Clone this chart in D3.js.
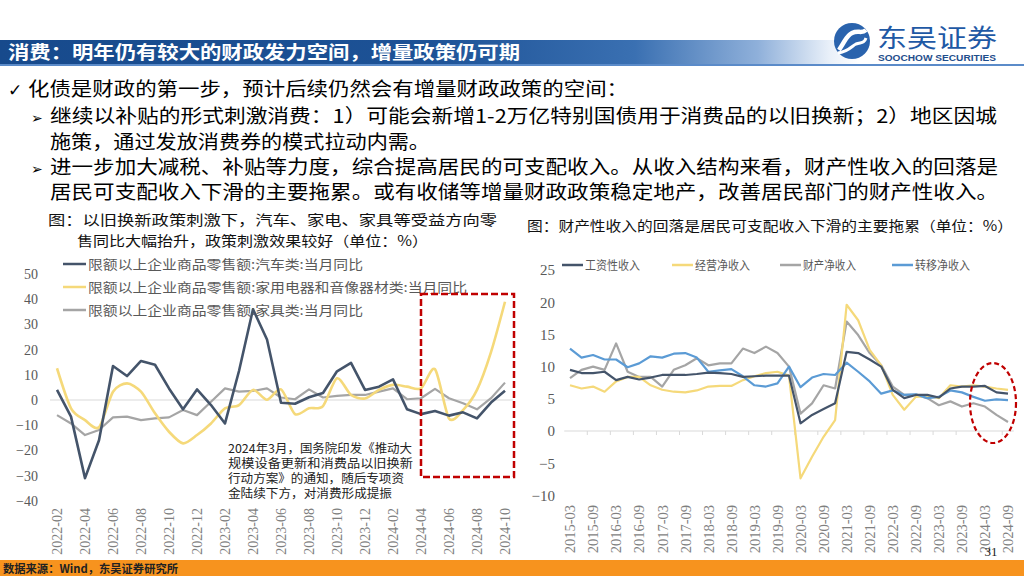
<!DOCTYPE html>
<html><head><meta charset="utf-8">
<script src="https://cdn.jsdelivr.net/npm/d3@7"></script>
<style>body{margin:0;background:#fff}svg{display:block}</style>
</head><body>
<svg id="c" width="1024" height="576"></svg>
<script>
// ---------------- DATA ----------------
const leftMonths = ["2022-02","2022-03","2022-04","2022-05","2022-06","2022-07","2022-08","2022-09","2022-10","2022-11","2022-12",
  "2023-01","2023-02","2023-03","2023-04","2023-05","2023-06","2023-07","2023-08","2023-09","2023-10","2023-11","2023-12",
  "2024-01","2024-02","2024-03","2024-04","2024-05","2024-06","2024-07","2024-08","2024-09","2024-10"];
const autoYoY = [4, -6.6, -31, -16, 13.5, 9.5, 15.5, 14, 4.6, -3.7, 4.2, -2, -9.3, 11.5, 36, 24, -1.1, -1.5, 1.1, 2.8, 11.4, 14.7, 4, 5.3, 8.2, -3.7, -5.6, -4.4, -6.2, -4.9, -7.3, -1, 3.7];
const applianceYoY = [12.6, -3.3, -8, -10.8, 3.3, 6.6, 3.3, -5.3, -12.6, -17.2, -13.9, -9.3, -3.3, -2, 4, 0.1, 4.2, -5.6, -3.3, -2.4, 8.6, 2, 0.6, 4, 6, 5.3, 4.6, 12.2, -7.3, -4, 4, 19, 39];
const furnitureYoY = [-6, -9.3, -13.9, -11.9, -6.9, -6.6, -8, -7.3, -6.9, -4, -6, -0.7, 4.6, 3.3, 3.6, 4.6, 1, 0.3, 4.2, 1, 1.6, 2, 2, 3.3, 4.6, 0.3, 0.7, 4.4, 0.7, -1.3, -3.7, 0.7, 6.9];
const leftSeriesNames = ["限额以上企业商品零售额:汽车类:当月同比", "限额以上企业商品零售额:家用电器和音像器材类:当月同比", "限额以上企业商品零售额:家具类:当月同比"];
const leftYTicks = [50, 40, 30, 20, 10, 0, -10, -20, -30, -40];

const rightQuarters = ["2015-03","2015-06","2015-09","2015-12","2016-03","2016-06","2016-09","2016-12","2017-03","2017-06","2017-09","2017-12",
  "2018-03","2018-06","2018-09","2018-12","2019-03","2019-06","2019-09","2019-12","2020-03","2020-06","2020-09","2020-12",
  "2021-03","2021-06","2021-09","2021-12","2022-03","2022-06","2022-09","2022-12","2023-03","2023-06","2023-09","2023-12",
  "2024-03","2024-06","2024-09"];
const wageIncome = [9.5, 9.0, 9.0, 9.2, 7.9, 8.4, 8.0, 8.3, 8.7, 8.7, 8.7, 8.85, 9.05, 9.0, 8.85, 8.4, 8.5, 8.6, 8.6, 8.6, 1.2, 2.5, 3.4, 4.3, 12.3, 12.1, 11.1, 10.0, 6.4, 5.1, 5.6, 5.6, 5.2, 6.6, 6.9, 6.9, 7.0, 6.0, 5.8];
const businessIncome = [7.1, 6.6, 6.9, 6.1, 7.7, 8.4, 8.4, 7.1, 6.4, 6.1, 6.0, 6.3, 6.9, 7.0, 7.0, 7.9, 8.5, 9.0, 9.2, 8.6, -7.35, -4.0, -0.9, 1.7, 19.6, 17.2, 12.6, 10.2, 5.6, 3.3, 5.3, 5.4, 5.1, 7.1, 6.9, 7.1, 6.9, 6.6, 6.4];
const propertyIncome = [8.2, 9.5, 10.0, 9.5, 13.6, 9.2, 8.4, 8.4, 6.9, 9.5, 10.2, 11.3, 10.2, 10.5, 10.5, 12.8, 12.1, 13.1, 12.1, 10.0, 2.7, 4.3, 7.1, 6.6, 17.0, 14.9, 12.1, 10.2, 6.9, 5.6, 5.6, 5.1, 4.0, 4.6, 3.8, 4.3, 3.8, 2.5, 1.4];
const transferIncome = [12.8, 11.4, 11.8, 11.1, 11.1, 9.9, 10.5, 11.6, 11.4, 12.0, 12.1, 11.4, 9.2, 9.4, 9.6, 8.5, 7.1, 6.9, 7.4, 10.0, 6.8, 8.3, 8.85, 8.7, 10.6, 9.2, 7.7, 5.8, 6.3, 5.6, 5.7, 5.1, 5.3, 6.3, 6.0, 5.3, 4.7, 4.9, 4.8];
const rightSeriesNames = ["工资性收入", "经营净收入", "财产净收入", "转移净收入"];
const rightYTicks = [25, 20, 15, 10, 5, 0, -5, -10];

// ---------------- STYLE ----------------
const CJK = "'Noto Sans CJK SC','Noto Sans',sans-serif";
const NUM = "'Liberation Serif','DejaVu Serif',serif";
const svg = d3.select("#c");

function txt(g, x, y, s, o = {}) {
  const t = g.append("text").attr("x", x).attr("y", y).text(s)
    .attr("font-family", o.ff || CJK).attr("font-size", o.fs || 12)
    .attr("fill", o.fill || "#000");
  if (o.fw) t.attr("font-weight", o.fw);
  if (o.tl) t.attr("textLength", o.tl).attr("lengthAdjust", "spacingAndGlyphs");
  if (o.anchor) t.attr("text-anchor", o.anchor);
  return t;
}

// ---------------- HEADER ----------------
const defs = svg.append("defs");
const hg = defs.append("linearGradient").attr("id", "hg").attr("gradientUnits", "userSpaceOnUse")
  .attr("x1", 0).attr("x2", 1024).attr("y1", 0).attr("y2", 0);
[[0, "#174a8c"], [0.42, "#1d5296"], [0.62, "#3a70b2"], [0.74, "#8fb0da"], [0.81, "#e9f0f9"], [0.84, "#ffffff"]]
  .forEach(([o, c]) => hg.append("stop").attr("offset", o).attr("stop-color", c));
svg.append("rect").attr("x", 0).attr("y", 40).attr("width", 1024).attr("height", 24).attr("fill", "url(#hg)");
svg.append("rect").attr("x", 0).attr("y", 64).attr("width", 1024).attr("height", 2).attr("fill", "#5b8bc9");
txt(svg, 8, 58.5, "消费：明年仍有较大的财政发力空间，增量政策仍可期", {fs: 18, fill: "#fff", fw: "bold", tl: 512});

// logo
const lg = svg.append("g");
lg.append("circle").attr("cx", 852).attr("cy", 41).attr("r", 18).attr("fill", "#2a63ad");
lg.append("path").attr("d", "M839,50 C846,40 846,36 852,33 C858,30 862,34 866,30")
  .attr("fill", "none").attr("stroke", "#fff").attr("stroke-width", 4.5);
lg.append("path").attr("d", "M838,53 C848,52 852,46 856,44 C861,42 864,44 866,38")
  .attr("fill", "none").attr("stroke", "#fff").attr("stroke-width", 3);
txt(svg, 877, 46.5, "东吴证券", {fs: 25, fill: "#1f59a5", tl: 120});
txt(svg, 878, 60.5, "SOOCHOW SECURITIES", {fs: 8.5, fill: "#1f4e8c", fw: "bold", ff: "'Liberation Sans',sans-serif", tl: 118});

// ---------------- BULLETS ----------------
txt(svg, 8, 96, "✓", {fs: 17, ff: "'DejaVu Sans',sans-serif"});
txt(svg, 28, 96, "化债是财政的第一步，预计后续仍然会有增量财政政策的空间：", {fs: 19, tl: 600});
txt(svg, 31, 122.5, "➢", {fs: 14, ff: "'DejaVu Sans',sans-serif"});
txt(svg, 50, 123, "继续以补贴的形式刺激消费：1）可能会新增1-2万亿特别国债用于消费品的以旧换新；2）地区因城", {fs: 19, tl: 947});
txt(svg, 50, 149, "施策，通过发放消费券的模式拉动内需。", {fs: 19, tl: 380});
txt(svg, 31, 173.5, "➢", {fs: 14, ff: "'DejaVu Sans',sans-serif"});
txt(svg, 50, 174, "进一步加大减税、补贴等力度，综合提高居民的可支配收入。从收入结构来看，财产性收入的回落是", {fs: 19, tl: 948});
txt(svg, 50, 199, "居民可支配收入下滑的主要拖累。或有收储等增量财政政策稳定地产，改善居民部门的财产性收入。", {fs: 19, tl: 948});

// ---------------- LEFT CHART ----------------
const L = svg.append("g");
txt(L, 48, 225, "图：以旧换新政策刺激下，汽车、家电、家具等受益方向零", {fs: 14, tl: 449, fill: "#111"});
txt(L, 77, 246, "售同比大幅抬升，政策刺激效果较好（单位：%）", {fs: 14, tl: 351, fill: "#111"});

const xL = d3.scalePoint().domain(leftMonths).range([57, 505]);
const yL = d3.scaleLinear().domain([-40, 50]).range([500.8, 274]);

L.append("line").attr("x1", 50).attr("x2", 513).attr("y1", yL(0)).attr("y2", yL(0))
  .attr("stroke", "#d9d9d9").attr("stroke-width", 1);

const yAxL = L.append("g").attr("transform", "translate(38,0)")
  .call(d3.axisLeft(yL).tickValues(leftYTicks).tickSize(0).tickPadding(0));
yAxL.select(".domain").remove();
yAxL.selectAll("text").attr("font-family", NUM).attr("font-size", 14).attr("fill", "#595959");

const xAxL = L.append("g").attr("transform", "translate(0,508)")
  .call(d3.axisBottom(xL).tickValues(leftMonths.filter((d, i) => i % 2 === 0)).tickSize(0).tickPadding(0));
xAxL.select(".domain").remove();
xAxL.selectAll("text").attr("font-family", NUM).attr("font-size", 14).attr("fill", "#7f7f7f")
  .attr("text-anchor", "end").attr("transform", "rotate(-90)").attr("x", 0).attr("y", 0).attr("dy", "0.33em");

const leftSeries = [
  {vals: furnitureYoY, color: "#a5a5a5", w: 2.2, curve: d3.curveLinear},
  {vals: applianceYoY, color: "#f5d97a", w: 2.6, curve: d3.curveCardinal.tension(0.2)},
  {vals: autoYoY, color: "#44546a", w: 2.6, curve: d3.curveLinear}
];
leftSeries.forEach(s => {
  L.append("path").datum(s.vals)
    .attr("d", d3.line().x((d, i) => xL(leftMonths[i])).y(d => yL(d)).curve(s.curve))
    .attr("fill", "none").attr("stroke", s.color).attr("stroke-width", s.w).attr("stroke-linejoin", "round");
});

// legend
const legL = [{c: "#44546a"}, {c: "#f5d97a"}, {c: "#a5a5a5"}];
const legLY = [264, 287, 310], legLW = [275, 379, 275];
legL.forEach((d, i) => {
  L.append("line").attr("x1", 63).attr("x2", 86).attr("y1", legLY[i]).attr("y2", legLY[i])
    .attr("stroke", d.c).attr("stroke-width", 2.5);
  txt(L, 88, legLY[i] + 4.5, leftSeriesNames[i], {fs: 13, fill: "#595959", tl: legLW[i]});
});

// red dashed rect
const rx0 = xL("2024-04");
L.append("rect").attr("x", rx0).attr("y", 294).attr("width", 514 - rx0).attr("height", 183)
  .attr("fill", "none").attr("stroke", "#c00000").attr("stroke-width", 2.5).attr("stroke-dasharray", "7,3");

// annotation
const ann = ["2024年3月，国务院印发《推动大", "规模设备更新和消费品以旧换新", "行动方案》的通知，随后专项资", "金陆续下方，对消费形成提振"];
const annW = [184, 185, 176, 164];
ann.forEach((s, i) => txt(L, 228, 453 + i * 15, s, {fs: 12, fill: "#222", tl: annW[i]}));

// ---------------- RIGHT CHART ----------------
const R = svg.append("g");
txt(R, 527, 231, "图：财产性收入的回落是居民可支配收入下滑的主要拖累（单位：%）", {fs: 14, tl: 486, fill: "#111"});

const xR = d3.scalePoint().domain(rightQuarters).range([570, 1008]);
const yR = d3.scaleLinear().domain([-10, 25]).range([495.4, 270]);
const stepR = xR.step();

R.append("line").attr("x1", 570 - stepR / 2).attr("x2", 1008 + stepR / 2).attr("y1", yR(0)).attr("y2", yR(0))
  .attr("stroke", "#d9d9d9").attr("stroke-width", 1);
rightQuarters.forEach((q, i) => {
  if (i % 2 === 1) {
    const x = xR(q) + stepR / 2;
    R.append("line").attr("x1", x).attr("x2", x).attr("y1", yR(0)).attr("y2", yR(0) + 4)
      .attr("stroke", "#d9d9d9").attr("stroke-width", 1);
  }
});

const yAxR = R.append("g").attr("transform", "translate(555,0)")
  .call(d3.axisLeft(yR).tickValues(rightYTicks).tickSize(0).tickPadding(0));
yAxR.select(".domain").remove();
yAxR.selectAll("text").attr("font-family", NUM).attr("font-size", 15).attr("fill", "#595959");

const xAxR = R.append("g").attr("transform", "translate(0,505)")
  .call(d3.axisBottom(xR).tickValues(rightQuarters.filter((d, i) => i % 2 === 0)).tickSize(0).tickPadding(0));
xAxR.select(".domain").remove();
xAxR.selectAll("text").attr("font-family", NUM).attr("font-size", 14.5).attr("fill", "#7f7f7f")
  .attr("text-anchor", "end").attr("transform", "rotate(-90)").attr("x", 0).attr("y", 0).attr("dy", "0.33em");

const rColors = ["#44546a", "#f5d97a", "#a5a5a5", "#5b9bd5"];
const rightSeries = [
  {vals: propertyIncome, color: rColors[2]},
  {vals: businessIncome, color: rColors[1]},
  {vals: transferIncome, color: rColors[3]},
  {vals: wageIncome, color: rColors[0]}
];
rightSeries.forEach(s => {
  R.append("path").datum(s.vals)
    .attr("d", d3.line().x((d, i) => xR(rightQuarters[i])).y(d => yR(d)))
    .attr("fill", "none").attr("stroke", s.color).attr("stroke-width", 2.2).attr("stroke-linejoin", "round");
});

const legR = [{x: 562, tw: 55}, {x: 672, tw: 55}, {x: 780, tw: 53}, {x: 892, tw: 55}];
legR.forEach((d, i) => {
  R.append("line").attr("x1", d.x).attr("x2", d.x + 21).attr("y1", 265).attr("y2", 265)
    .attr("stroke", rColors[i]).attr("stroke-width", 2.5);
  txt(R, d.x + 23, 269.5, rightSeriesNames[i], {fs: 12, fill: "#595959", tl: d.tw});
});

R.append("ellipse").attr("cx", 993).attr("cy", 403).attr("rx", 23).attr("ry", 40)
  .attr("fill", "none").attr("stroke", "#c00000").attr("stroke-width", 2.2).attr("stroke-dasharray", "5,3");

// ---------------- FOOTER ----------------
svg.append("rect").attr("x", 0).attr("y", 560).attr("width", 1024).attr("height", 16).attr("fill", "#f7931e");
txt(svg, 3, 572.5, "数据来源：Wind，东吴证券研究所", {fs: 11, fw: "bold", fill: "#222", tl: 175});
txt(svg, 991, 556, "31", {fs: 13, ff: NUM, fill: "#222", anchor: "middle"});
</script>
</body></html>
